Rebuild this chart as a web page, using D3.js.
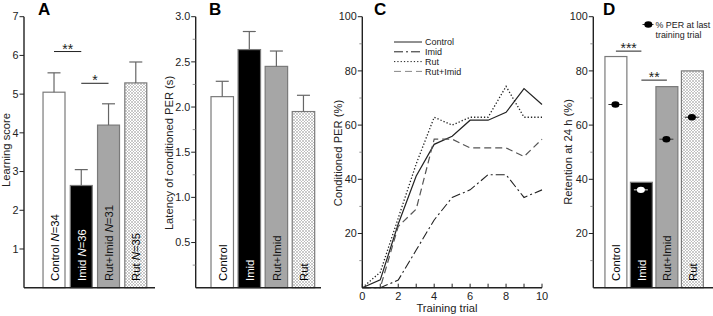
<!DOCTYPE html>
<html><head><meta charset="utf-8">
<script src="https://cdn.jsdelivr.net/npm/d3@7"></script>
<style>
html,body{margin:0;padding:0;background:#fff;}
text{font-family:"Liberation Sans",Arial,Helvetica,sans-serif;}
</style></head>
<body><svg id="c" width="713" height="316"></svg>
<script>
// ---------- data ----------
const groups = ["Control", "Imid", "Rut+Imid", "Rut"];
const groupN = [34, 36, 31, 35];
const learningScore = [5.05, 2.64, 4.2, 5.29];
const learningScoreErr = [0.5, 0.41, 0.55, 0.54];
const latency = [2.115, 2.636, 2.45, 1.95];
const latencyErr = [0.17, 0.2, 0.17, 0.18];
const trials = [0, 1, 2, 3, 4, 5, 6, 7, 8, 9, 10];
const perControl = [0, 2.9, 23.5, 41.2, 52.9, 55.9, 61.8, 61.8, 64.7, 73.5, 67.6];
const perImid = [0, 0, 2.8, 13.9, 25.0, 33.3, 36.1, 41.7, 41.7, 33.3, 36.1];
const perRut = [0, 5.7, 25.7, 45.7, 62.9, 60.0, 62.9, 62.9, 74.3, 62.9, 62.9];
const perRutImid = [0, 0, 22.6, 29.0, 54.8, 54.8, 51.6, 51.6, 51.6, 48.4, 54.8];
const retention = [85.3, 38.9, 74.2, 80.0];
const perLastTrial = [67.6, 36.1, 54.8, 62.9];
const sigA = [["Control", "Imid", "**"], ["Imid", "Rut+Imid", "*"]];
const sigALevel = [6.1, 5.28];
const sigD = [["Control", "Imid", "***"], ["Imid", "Rut+Imid", "**"]];
const sigDLevel = [87.3, 76.6];
const ticksA = [1, 2, 3, 4, 5, 6, 7];
const ticksB = [0.5, 1.0, 1.5, 2.0, 2.5, 3.0];
const ticksPct = [20, 40, 60, 80, 100];
const ticksTrial = [0, 2, 4, 6, 8, 10];

// ---------- setup ----------
const svg = d3.select("#c");
const defs = svg.append("defs");
const pat = defs.append("pattern").attr("id", "hatch").attr("patternUnits", "userSpaceOnUse")
  .attr("width", 3).attr("height", 3);
pat.append("rect").attr("width", 3).attr("height", 3).attr("fill", "#fff");
pat.append("path").attr("d", "M0,0L3,3M3,0L0,3").attr("stroke", "#a8a8a8").attr("stroke-width", 0.6);

const fills = ["#ffffff", "#000000", "#a6a6a6", "url(#hatch)"];
const labelColors = ["#000", "#fff", "#111", "#000"];
const AX = "#222";
const Y0 = 287.7, YT = 16.7;

function yAxis(g, y, x0, majors, minors, fmt) {
  g.append("line").attr("x1", x0).attr("x2", x0).attr("y1", y.range()[0]).attr("y2", y.range()[1])
    .attr("stroke", AX).attr("stroke-width", 1.4);
  majors.forEach(v => {
    g.append("line").attr("x1", x0 - 4.5).attr("x2", x0).attr("y1", y(v)).attr("y2", y(v)).attr("stroke", AX).attr("stroke-width", 1);
    g.append("text").attr("x", x0 - 5.5).attr("y", y(v)).attr("dy", "0.35em").attr("text-anchor", "end")
      .attr("font-size", 10.8).attr("fill", "#222").text(fmt(v));
  });
  minors.forEach(v => {
    g.append("line").attr("x1", x0 - 3).attr("x2", x0).attr("y1", y(v)).attr("y2", y(v)).attr("stroke", "#777").attr("stroke-width", 0.8);
  });
}
function yTitle(x, yc, txt) {
  svg.append("text").attr("transform", `translate(${x},${yc}) rotate(-90)`).attr("text-anchor", "middle")
    .attr("dy", "0.35em").attr("font-size", 11.2).attr("fill", "#222").text(txt);
}
function panelLetter(x, txt) {
  svg.append("text").attr("x", x).attr("y", 15).attr("font-size", 17).attr("font-weight", "bold").text(txt);
}
function bars(g, x, y, vals, errs) {
  g.selectAll("rect.bar").data(groups).enter().append("rect")
    .attr("x", d => x(d)).attr("width", x.bandwidth())
    .attr("y", (d, i) => y(vals[i])).attr("height", (d, i) => y(0) - y(vals[i]))
    .attr("fill", (d, i) => fills[i]).attr("stroke", "#7a7a7a").attr("stroke-width", 1.2);
  if (errs) {
    groups.forEach((d, i) => {
      const cx = x(d) + x.bandwidth() / 2;
      g.append("line").attr("x1", cx).attr("x2", cx).attr("y1", y(vals[i])).attr("y2", y(vals[i] + errs[i]))
        .attr("stroke", "#666").attr("stroke-width", 1.2);
      g.append("line").attr("x1", cx - 6.5).attr("x2", cx + 6.5).attr("y1", y(vals[i] + errs[i])).attr("y2", y(vals[i] + errs[i]))
        .attr("stroke", "#666").attr("stroke-width", 1.2);
    });
  }
}
function barLabels(g, x, withN) {
  groups.forEach((d, i) => {
    const cx = x(d) + x.bandwidth() / 2;
    const t = g.append("text").attr("transform", `translate(${cx + 0.5},281) rotate(-90)`)
      .attr("dy", "0.36em").attr("font-size", 11.3).attr("fill", labelColors[i]);
    t.append("tspan").text(d);
    if (withN) {
      t.append("tspan").text(" ");
      t.append("tspan").attr("font-style", "italic").text("N");
      t.append("tspan").text("=" + groupN[i]);
    }
  });
}
function sig(g, x, y, pairs, levels) {
  pairs.forEach((p, i) => {
    const x1 = x(p[0]) + x.bandwidth() / 2, x2 = x(p[1]) + x.bandwidth() / 2;
    const yy = y(levels[i]);
    g.append("line").attr("x1", x1).attr("x2", x2).attr("y1", yy).attr("y2", yy).attr("stroke", "#222").attr("stroke-width", 1);
    g.append("text").attr("x", (x1 + x2) / 2).attr("y", yy + 2).attr("text-anchor", "middle")
      .attr("font-size", 14).attr("fill", "#222").text(p[2]);
  });
}

// ---------- Panel A ----------
{
  const g = svg.append("g");
  const y = d3.scaleLinear().domain([0, 7]).range([Y0, YT]);
  const x = d3.scaleBand().domain(groups).range([40.3, 149.5]).paddingInner(0.194).paddingOuter(0.1);
  bars(g, x, y, learningScore, learningScoreErr);
  barLabels(g, x, true);
  sig(g, x, y, sigA, sigALevel);
  yAxis(g, y, 24, ticksA, [], d => d);
  g.append("line").attr("x1", 24).attr("x2", 155).attr("y1", Y0).attr("y2", Y0).attr("stroke", AX).attr("stroke-width", 1.4);
  yTitle(6.5, 150, "Learning score");
  panelLetter(38, "A");
}
// ---------- Panel B ----------
{
  const g = svg.append("g");
  const y = d3.scaleLinear().domain([0, 3]).range([Y0, YT]);
  const x = d3.scaleBand().domain(groups).range([208.3, 317.4]).paddingInner(0.17).paddingOuter(0.1);
  bars(g, x, y, latency, latencyErr);
  barLabels(g, x, false);
  yAxis(g, y, 195.7, ticksB, [0.25, 0.75, 1.25, 1.75, 2.25, 2.75], d => d3.format(".1f")(d));
  g.append("line").attr("x1", 195.7).attr("x2", 321).attr("y1", Y0).attr("y2", Y0).attr("stroke", AX).attr("stroke-width", 1.4);
  yTitle(169.5, 153, "Latency of conditioned PER (s)");
  panelLetter(209, "B");
}
// ---------- Panel C ----------
{
  const g = svg.append("g");
  const y = d3.scaleLinear().domain([0, 100]).range([Y0, YT]);
  const x = d3.scaleLinear().domain([0, 10]).range([362.3, 542]);
  const series = [
    {name: "Control", vals: perControl, dash: null, color: "#222", w: 1.2},
    {name: "Imid", vals: perImid, dash: "9,3,2,3", color: "#222", w: 1.1},
    {name: "Rut", vals: perRut, dash: "1.3,2", color: "#222", w: 1.3},
    {name: "Rut+Imid", vals: perRutImid, dash: "7,4", color: "#555", w: 1.2}
  ];
  const line = d3.line().x((d, i) => x(trials[i])).y(d => y(d));
  series.forEach(s => {
    g.append("path").attr("d", line(s.vals)).attr("fill", "none").attr("stroke", s.color)
      .attr("stroke-width", s.w).attr("stroke-dasharray", s.dash);
  });
  yAxis(g, y, 362.3, ticksPct, [10, 30, 50, 70, 90], d => d);
  g.append("line").attr("x1", 362.3).attr("x2", 542).attr("y1", Y0).attr("y2", Y0).attr("stroke", AX).attr("stroke-width", 1.4);
  trials.forEach(t => {
    g.append("line").attr("x1", x(t)).attr("x2", x(t)).attr("y1", Y0).attr("y2", Y0 - 4).attr("stroke", AX).attr("stroke-width", 1);
  });
  ticksTrial.forEach(t => {
    g.append("text").attr("x", x(t)).attr("y", 300).attr("text-anchor", "middle").attr("font-size", 11).attr("fill", "#222").text(t);
  });
  svg.append("text").attr("x", 447).attr("y", 312).attr("text-anchor", "middle").attr("font-size", 11.2).attr("fill", "#222").text("Training trial");
  yTitle(338, 153, "Conditioned PER (%)");
  panelLetter(374, "C");
  // legend
  series.forEach((s, i) => {
    const ly = 42 + i * 9.8;
    g.append("line").attr("x1", 394).attr("x2", 422).attr("y1", ly).attr("y2", ly)
      .attr("stroke", s.name === "Rut+Imid" ? "#888" : s.color).attr("stroke-width", 1).attr("stroke-dasharray", s.dash);
    g.append("text").attr("x", 425).attr("y", ly).attr("dy", "0.35em").attr("font-size", 9).attr("fill", "#222").text(s.name);
  });
}
// ---------- Panel D ----------
{
  const g = svg.append("g");
  const y = d3.scaleLinear().domain([0, 100]).range([Y0, YT]);
  const x = d3.scaleBand().domain(groups).range([602.4, 705.9]).paddingInner(0.14).paddingOuter(0.1);
  bars(g, x, y, retention, null);
  barLabels(g, x, false);
  groups.forEach((d, i) => {
    const cx = x(d) + x.bandwidth() / 2 - 0.5;
    const c = i === 1 ? "#fff" : "#000";
    g.append("line").attr("x1", cx - 7).attr("x2", cx + 7).attr("y1", y(perLastTrial[i])).attr("y2", y(perLastTrial[i]))
      .attr("stroke", i === 1 ? "#ddd" : "#333").attr("stroke-width", 1);
    g.append("ellipse").attr("cx", cx).attr("cy", y(perLastTrial[i])).attr("rx", 4).attr("ry", 3.2).attr("fill", c);
  });
  sig(g, x, y, sigD, sigDLevel);
  yAxis(g, y, 593.3, ticksPct, [10, 30, 50, 70, 90], d => d);
  g.append("line").attr("x1", 593.3).attr("x2", 713).attr("y1", Y0).attr("y2", Y0).attr("stroke", AX).attr("stroke-width", 1.4);
  yTitle(568, 152, "Retention at 24 h (%)");
  panelLetter(603, "D");
  g.append("line").attr("x1", 642.5).attr("x2", 653.5).attr("y1", 24.5).attr("y2", 24.5).attr("stroke", "#333").attr("stroke-width", 1);
  g.append("ellipse").attr("cx", 648.3).attr("cy", 24.5).attr("rx", 4).attr("ry", 3.2).attr("fill", "#000");
  g.append("text").attr("x", 655.5).attr("y", 27.8).attr("font-size", 8.9).attr("fill", "#222").text("% PER at last");
  g.append("text").attr("x", 655.5).attr("y", 37.5).attr("font-size", 8.9).attr("fill", "#222").text("training trial");
}
</script></body></html>
